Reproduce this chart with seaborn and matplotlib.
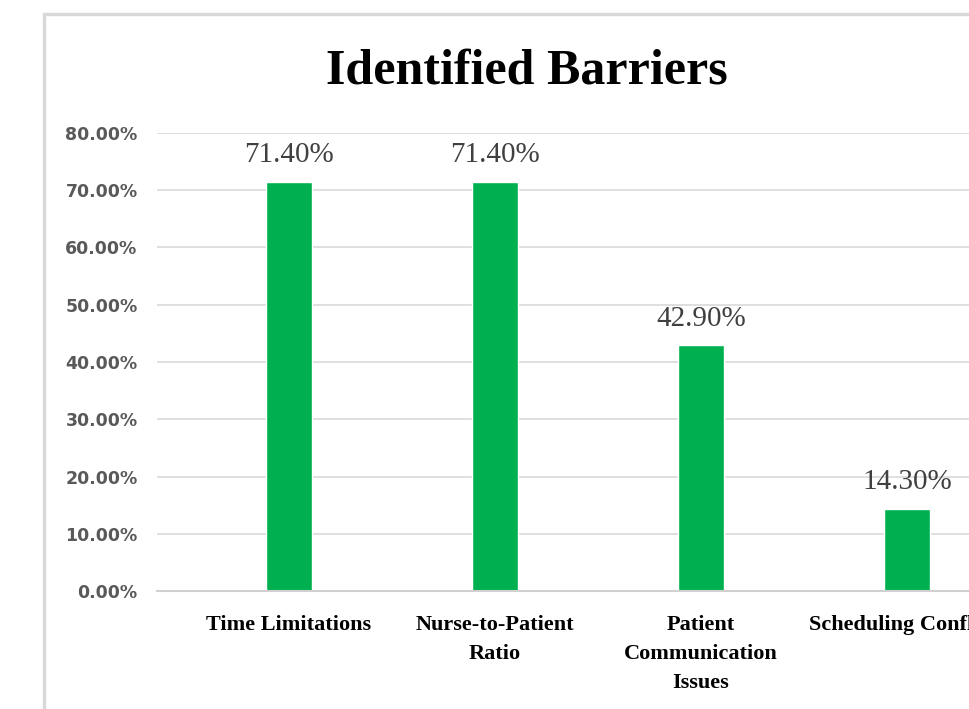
import matplotlib
matplotlib.use("Agg")
import matplotlib.pyplot as plt
import matplotlib.patches as mpatches
import seaborn as sns

# dati
categorie = ["Time Limitations", "Nurse-to-Patient\nRatio",
             "Patient\nCommunication\nIssues", "Scheduling Conflicts"]
valori = [71.4, 71.4, 42.9, 14.3]
yticks = [0, 10, 20, 30, 40, 50, 60, 70, 80]

sns.set_theme(style="white")
serif = ["Liberation Serif", "DejaVu Serif"]

fig = plt.figure(figsize=(9.69, 7.09), dpi=100)
W, H = 969, 709
# area del grafico (si estende oltre il bordo destro, come nel ritaglio)
left, right, top, bottom = 157, 1100, 133, 591
ax = fig.add_axes([left / W, 1 - bottom / H, (right - left) / W, (bottom - top) / H])

sns.barplot(x=categorie, y=valori, color="#00B050", width=0.223,
            saturation=1, ax=ax)

# bordo del grafico
fig.patches.append(mpatches.Rectangle((44 / W, -0.1), 2, 1.1 - 14 / H,
                                      transform=fig.transFigure, fill=False,
                                      edgecolor="#D9D9D9", linewidth=2.5))

ax.set_xlim(-(289 - left) / 206, (right - 289) / 206)
ax.set_ylim(0, 80)
ax.set_yticks(yticks)
ax.set_yticklabels([f"{v:.2f}%" for v in yticks], fontfamily="DejaVu Sans",
                   fontweight="bold", fontsize=12.5, color="#595959")
ax.yaxis.grid(True, color="#D9D9D9", linewidth=1.2)
ax.set_axisbelow(True)
for s in ["top", "right", "left"]:
    ax.spines[s].set_visible(False)
ax.spines["bottom"].set_color("#D0D0D0")
ax.spines["bottom"].set_linewidth(1.5)
ax.tick_params(axis="y", length=0, pad=14)
ax.tick_params(axis="x", length=0, pad=17)
for lab in ax.get_xticklabels():
    lab.set_fontfamily(serif)
    lab.set_fontweight("bold")
    lab.set_fontsize(16)
    lab.set_color("black")
    lab.set_linespacing(1.6)
    lab.set_verticalalignment("top")
ax.set_xlabel("")
ax.set_ylabel("")

ax.bar_label(ax.containers[0], labels=[f"{v:.2f}%" for v in valori],
             padding=10, fontfamily=serif, fontsize=21, color="#404040")

fig.text(527 / W, 1 - 71 / H, "Identified Barriers", ha="center", va="center",
         fontfamily=serif, fontweight="bold", fontsize=36, color="black")

fig.savefig("out.png", dpi=100)
